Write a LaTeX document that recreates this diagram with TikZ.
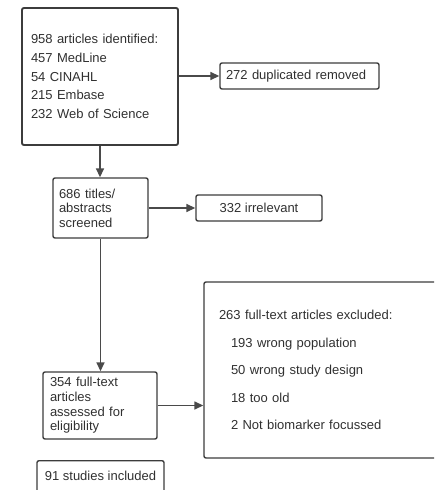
\documentclass[tikz,border=0pt]{standalone}
\usepackage{fontspec}
\setmainfont{Liberation Sans}
\usepackage{xcolor}
\usepackage{tikz}
\usetikzlibrary{shapes,arrows,positioning,calc,arrows.meta}

\definecolor{boxline}{HTML}{3C3C3C}
\definecolor{boxtext}{HTML}{303030}
\definecolor{flowline}{HTML}{4A4A4A}

\tikzset{
    box/.style={draw=boxline, line width=1.4pt, rounded corners=2pt, text=boxtext,
        font=\fontsize{13}{14.6}\selectfont, align=left, inner ysep=0pt},
    flow/.style={draw=flowline, line width=1.5pt, -{Triangle[length=9pt,width=8pt]}}
}

\begin{document}
\begin{tikzpicture}[x=1pt,y=-1pt]
    \useasboundingbox (0,0) rectangle (434,490);
    \clip (0,0) rectangle (434,490);

    % Identification
    \node[box, line width=1.9pt, minimum height=137pt, text width=138pt, inner xsep=9pt,
        font=\fontsize{13}{18.7}\selectfont] (ident) at (100,76.5)
        {958 articles identified:\\457 MedLine\\54 CINAHL\\215 Embase\\232 Web of Science};
    \node[box, minimum height=26pt, text width=147pt, inner xsep=6pt] (dup) at (299.5,76)
        {272 duplicated removed};

    % Screening
    \node[box, minimum height=60pt, text width=83pt, inner xsep=6pt] (screen) at (100.5,208)
        {686 titles/\\abstracts\\screened};
    \node[box, minimum width=126pt, minimum height=26pt, align=center] (irrel) at (259,208)
        {332 irrelevant};

    % Eligibility
    \node[box, minimum height=67pt, text width=100pt, inner xsep=7pt] (full) at (100,405.5)
        {354 full-text\\articles\\assessed for\\eligibility};
    \node[box, minimum height=176pt, text width=236pt, inner xsep=15pt] (excl) at (337,370)
        {263 full-text articles excluded:\\[12.9pt]
         \hspace*{12pt}193 wrong population\\[12.9pt]
         \hspace*{12pt}50 wrong study design\\[12.9pt]
         \hspace*{12pt}18 too old\\[12.9pt]
         \hspace*{12pt}2 Not biomarker focussed};

    % Included
    \node[box, anchor=north, minimum width=127pt, inner ysep=10pt, text depth=14pt,
        align=center] (incl) at (100.5,460) {91 studies included};

    % Arrows
    \draw[flow] (ident.south) -- (ident.south |- screen.north);
    \draw[flow] (dup.west -| ident.east) -- (dup.west);
    \draw[flow] (screen.east) -- (irrel.west);
    \draw[flow] (screen.south) -- (screen.south |- full.north);
    \draw[flow] (full.east) -- (full.east -| excl.west);
\end{tikzpicture}
\end{document}
